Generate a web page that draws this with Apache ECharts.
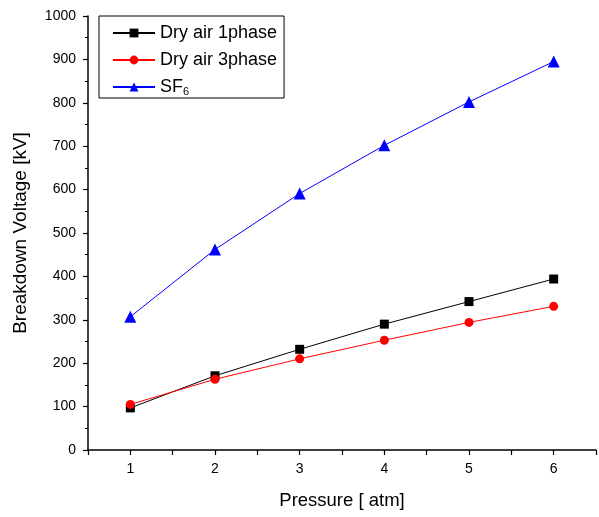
<!DOCTYPE html>
<html>
<head>
<meta charset="utf-8">
<script src="https://cdn.jsdelivr.net/npm/echarts@6/dist/echarts.min.js"></script>
<style>
  html, body { margin: 0; padding: 0; background: #fff; }
  #chart-container { width: 599px; height: 517px; }
</style>
</head>
<body>
<div id="chart-container"></div>
<script>
var dom = document.getElementById("chart-container");
var myChart = echarts.init(dom, null, { renderer: "canvas" });

var pressure = [1, 2, 3, 4, 5, 6];
var dryAir1 = [97, 171, 232, 290, 342, 394];
var dryAir3 = [105, 163, 210, 253, 294, 331];
var sf6 = [307, 462, 591, 702, 802, 895];

function pairs(ys) {
  return pressure.map(function (x, i) { return [x, ys[i]]; });
}

var font = "Liberation Sans";

var option = {
  animation: false,
  grid: { left: 88, right: 2, top: 16, bottom: 67 },
  legend: {
    orient: "vertical",
    left: 99,
    top: 16,
    padding: [8, 7, 1, 13],
    itemGap: 9,
    itemWidth: 42,
    itemHeight: 11,
    borderColor: "#000",
    borderWidth: 1,
    textStyle: {
      fontFamily: font,
      fontSize: 18,
      color: "#000",
      rich: {
        sub: { fontFamily: font, fontSize: 11, verticalAlign: "bottom", padding: [9, 0, 0, 0] }
      }
    },
    formatter: function (name) {
      return name === "SF6" ? "SF{sub|6}" : name;
    },
    data: ["Dry air 1phase", "Dry air 3phase", "SF6"]
  },
  xAxis: {
    type: "value",
    min: 0.5,
    max: 6.5,
    interval: 0.5,
    name: "Pressure [ atm]",
    nameLocation: "middle",
    nameGap: 41,
    nameTextStyle: { fontFamily: font, fontSize: 18.5, color: "#000" },
    axisLine: { lineStyle: { color: "#000", width: 1.5 } },
    axisTick: { length: 5, lineStyle: { color: "#000", width: 1.2 } },
    axisLabel: {
      fontFamily: font, fontSize: 14, color: "#000", margin: 12,
      formatter: function (v) { return v % 1 === 0 ? String(v) : ""; }
    },
    splitLine: { show: false }
  },
  yAxis: {
    type: "value",
    min: 0,
    max: 1000,
    interval: 100,
    name: "Breakdown Voltage [kV]",
    nameLocation: "middle",
    nameGap: 58,
    nameTextStyle: { fontFamily: font, fontSize: 19, color: "#000" },
    axisLine: { show: true, lineStyle: { color: "#000", width: 1.5 } },
    axisTick: { show: true, length: 5, lineStyle: { color: "#000", width: 1.2 } },
    minorTick: { show: true, splitNumber: 2, length: 3, lineStyle: { color: "#000" } },
    axisLabel: {
      fontFamily: font, fontSize: 14, color: "#000", margin: 12,
      formatter: function (v) { return String(v); }
    },
    splitLine: { show: false }
  },
  series: [
    {
      name: "Dry air 1phase",
      type: "line",
      data: pairs(dryAir1),
      symbol: "rect",
      symbolSize: 9,
      itemStyle: { color: "#000" },
      lineStyle: { color: "#000", width: 1 }
    },
    {
      name: "Dry air 3phase",
      type: "line",
      data: pairs(dryAir3),
      symbol: "circle",
      symbolSize: 9,
      itemStyle: { color: "#ff0000" },
      lineStyle: { color: "#ff0000", width: 1 }
    },
    {
      name: "SF6",
      type: "line",
      data: pairs(sf6),
      symbol: "triangle",
      symbolSize: 12,
      itemStyle: { color: "#0000ff" },
      lineStyle: { color: "#0000ff", width: 1 }
    }
  ]
};

myChart.setOption(option);
window.addEventListener("resize", myChart.resize);
</script>
</body>
</html>
